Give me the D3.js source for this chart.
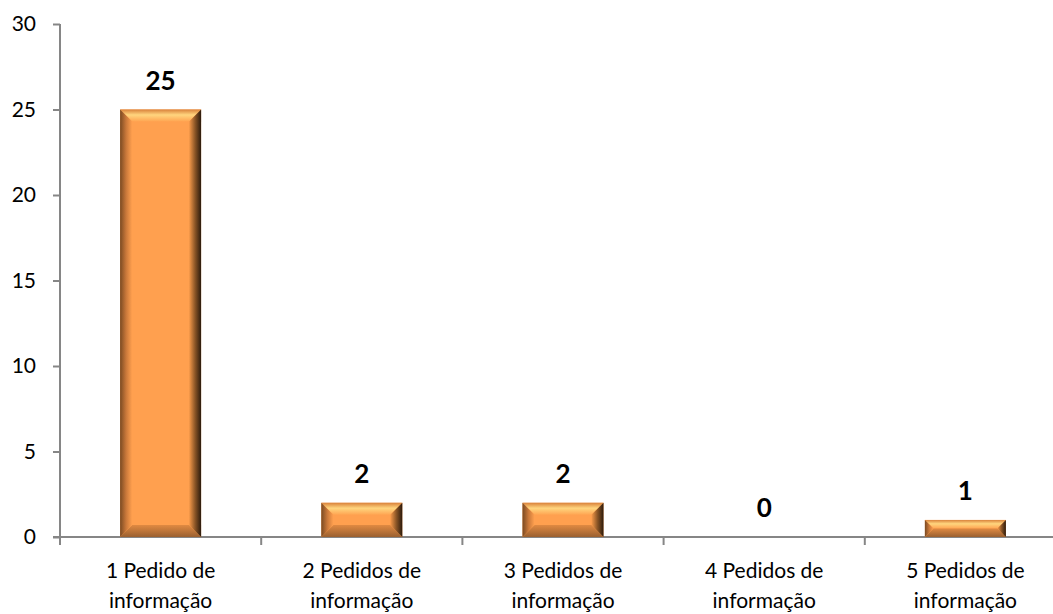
<!DOCTYPE html>
<html>
<head>
<meta charset="utf-8">
<script src="https://cdnjs.cloudflare.com/ajax/libs/d3/7.8.5/d3.min.js"></script>
<style>
  body { margin: 0; background: #fff; }
  svg text { font-family: Lato, "Open Sans", sans-serif; fill: #000; }
  .axis path, .axis line { stroke: #868686; stroke-width: 2; }
</style>
</head>
<body>
<div id="chart"></div>
<script>
var categories = ["1 Pedido de|informação", "2 Pedidos de|informação", "3 Pedidos de|informação", "4 Pedidos de|informação", "5 Pedidos de|informação"];
var values = [25, 2, 2, 0, 1];
var yTicks = [0, 5, 10, 15, 20, 25, 30];

var width = 1053, height = 614;
var margin = { top: 24, right: -13, bottom: 77, left: 60 };
var innerW = width - margin.left - margin.right,
    innerH = height - margin.top - margin.bottom;

var svg = d3.select("#chart").append("svg")
    .attr("width", width)
    .attr("height", height);

var defs = svg.append("defs");
function grad(id, x2, y2, stops) {
    var g = defs.append("linearGradient").attr("id", id)
        .attr("x1", 0).attr("y1", 0).attr("x2", x2).attr("y2", y2);
    stops.forEach(function (s) {
        g.append("stop").attr("offset", s[0]).attr("stop-color", s[1]);
    });
}
// bevel faces
grad("bevTop", 0, 1, [[0, "#d9813a"], [0.45, "#ffd57e"], [1, "#ffa552"]]);
grad("bevLeft", 1, 0, [[0, "#7a4a22"], [0.5, "#c9783a"], [1, "#ffa04f"]]);
grad("bevRight", 1, 0, [[0, "#f79a4a"], [0.5, "#8a5526"], [1, "#2b1a0c"]]);
grad("bevBottom", 0, 1, [[0, "#e08a42"], [1, "#9a6030"]]);

var g = svg.append("g")
    .attr("transform", "translate(" + margin.left + "," + margin.top + ")");

var band = d3.scaleBand().domain(categories).range([0, innerW]);

var y = d3.scaleLinear()
    .domain([0, 30])
    .range([innerH, 0]);

// Y axis
g.append("g")
    .attr("class", "axis")
    .call(d3.axisLeft(y).tickValues(yTicks).tickSize(7).tickPadding(17))
    .call(function (a) {
        a.select(".domain").attr("d", "M0,0V" + (innerH + 8));
        a.selectAll("text").style("font-size", "21px");
    });

// X axis with category separators
var xAxis = g.append("g")
    .attr("class", "axis")
    .attr("transform", "translate(0," + innerH + ")");
xAxis.append("line")
    .attr("x1", -7).attr("x2", innerW);
xAxis.selectAll(".sep")
    .data(categories.slice(1))
    .enter().append("line")
    .attr("class", "sep")
    .attr("x1", function (d) { return band(d); })
    .attr("x2", function (d) { return band(d); })
    .attr("y1", 0).attr("y2", 8);

xAxis.selectAll(".cat")
    .data(categories)
    .enter().append("text")
    .attr("class", "cat")
    .attr("text-anchor", "middle")
    .style("font-size", "21px")
    .attr("transform", function (d) { return "translate(" + (band(d) + band.bandwidth() / 2) + ",0)"; })
    .each(function (d) {
        var t = d3.select(this);
        d.split("|").forEach(function (line, i) {
            t.append("tspan").attr("x", 0).attr("y", 41 + i * 30).text(line);
        });
    });

// Bars with bevel
var data = categories.map(function (c, i) { return { cat: c, v: values[i] }; });

var bars = g.selectAll(".bar")
    .data(data.filter(function (d) { return d.v > 0; }))
    .enter().append("g")
    .attr("class", "bar");

bars.each(function (d) {
    var bw = 81;
    var x0 = band(d.cat) + band.bandwidth() / 2 - bw / 2,
        x1 = x0 + bw,
        y0 = y(d.v),
        y1 = y(0),
        h = y1 - y0,
        b = Math.min(12, h / 2, bw / 2);
    var s = d3.select(this);
    s.append("rect").attr("x", x0).attr("y", y0).attr("width", bw).attr("height", h).attr("fill", "#ffa04f");
    function poly(pts, fill) {
        s.append("polygon").attr("points", pts.map(function (p) { return p.join(","); }).join(" ")).attr("fill", fill);
    }
    poly([[x0, y0], [x1, y0], [x1 - b, y0 + b], [x0 + b, y0 + b]], "url(#bevTop)");
    poly([[x0, y1], [x1, y1], [x1 - b, y1 - b], [x0 + b, y1 - b]], "url(#bevBottom)");
    poly([[x0, y0], [x0 + b, y0 + b], [x0 + b, y1 - b], [x0, y1]], "url(#bevLeft)");
    poly([[x1, y0], [x1 - b, y0 + b], [x1 - b, y1 - b], [x1, y1]], "url(#bevRight)");
});

// value labels
g.selectAll(".val")
    .data(data)
    .enter().append("text")
    .attr("class", "val")
    .attr("text-anchor", "middle")
    .style("font-size", "26px")
    .style("font-weight", "bold")
    .attr("x", function (d) { return band(d.cat) + band.bandwidth() / 2; })
    .attr("y", function (d) { return y(d.v) - 20; })
    .text(function (d) { return d.v; });
</script>
</body>
</html>
